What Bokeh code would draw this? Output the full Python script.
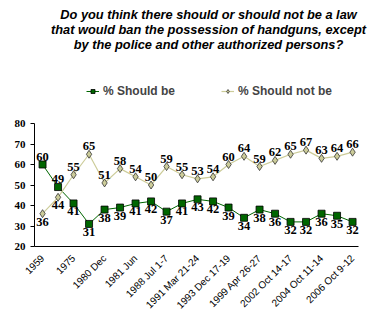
from bokeh.plotting import figure
from bokeh.models import ColumnDataSource, Label, Legend, LegendItem, FixedTicker, LabelSet
from bokeh.embed import file_html
from bokeh.resources import INLINE
import math

tick_labels = ["1959", "1975", "1980 Dec", "1981 Jun", "1988 Jul 1-7", "1991 Mar 21-24",
               "1993 Dec 17-19", "1999 Apr 26-27", "2002 Oct 14-17", "2004 Oct 11-14", "2006 Oct 9-12"]
should_be = [60, 49, 41, 31, 38, 39, 41, 42, 37, 41, 43, 42, 39, 34, 38, 36, 32, 32, 36, 35, 32]
should_not_be = [36, 44, 55, 65, 51, 58, 54, 50, 59, 55, 53, 54, 60, 64, 59, 62, 65, 67, 63, 64, 66]
title_lines = ["Do you think there should or should not be a law",
               "that would ban the possession of handguns, except",
               "by the police and other authorized persons?"]

n = len(should_be)
xs = list(range(n))

GREEN = "#006600"
KHAKI = "#CCCC99"

X0, X1 = -0.52, n - 1 + 0.39
PX_PER_X = 15.5
PX_PER_Y = 2.05
frame_w = 372 - 34
frame_h = 333 - 87

p = figure(width=372, height=333, output_backend="svg", toolbar_location=None,
           x_range=(X0, X0 + frame_w / PX_PER_X), y_range=(20, 20 + frame_h / PX_PER_Y),
           min_border_left=34, min_border_right=0, min_border_top=0, min_border_bottom=87)
p.outline_line_color = None
p.xgrid.grid_line_color = None
p.ygrid.grid_line_color = None
p.background_fill_color = "white"
p.border_fill_color = "white"

# lines and markers
r1l = p.line(xs, should_be, line_color=GREEN, line_width=1)
r2l = p.line(xs, should_not_be, line_color=KHAKI, line_width=1.2)
r1m = p.scatter(xs, should_be, marker="square", size=7, fill_color=GREEN, line_color="black", line_width=0.8)
r2m = p.scatter(xs, should_not_be, marker="diamond", size=8, fill_color=KHAKI, line_color="#333333", line_width=0.8)

# data labels: higher series above, lower below
up_x, up_y, up_t, dn_x, dn_y, dn_t = [], [], [], [], [], []
for i in range(n):
    a, b = should_be[i], should_not_be[i]
    hi, lo = (a, b) if a >= b else (b, a)
    up_x.append(i); up_y.append(hi); up_t.append(str(hi))
    dn_x.append(i); dn_y.append(lo); dn_t.append(str(lo))

src_up = ColumnDataSource(dict(x=up_x, y=up_y, t=up_t))
src_dn = ColumnDataSource(dict(x=dn_x, y=dn_y, t=dn_t))
p.add_layout(LabelSet(x="x", y="y", text="t", source=src_up, text_align="center",
                      text_baseline="bottom", y_offset=4, text_font="Liberation Serif",
                      text_font_style="bold", text_font_size="12.5px", text_color="black"))
p.add_layout(LabelSet(x="x", y="y", text="t", source=src_dn, text_align="center",
                      text_baseline="top", y_offset=-4, text_font="Liberation Serif",
                      text_font_style="bold", text_font_size="12.5px", text_color="black"))

# axes
p.xaxis.bounds = (X0, X1)
p.xaxis.ticker = FixedTicker(ticks=list(range(0, n, 2)))
p.xaxis.major_label_overrides = {i * 2: lab for i, lab in enumerate(tick_labels)}
p.xaxis.major_label_orientation = math.pi / 4
p.xaxis.major_label_text_font = "Liberation Sans"
p.xaxis.major_label_text_font_size = "10px"
p.xaxis.major_label_text_font_style = "normal"
p.xaxis.major_label_text_color = "black"
p.xaxis.major_tick_line_color = None
p.xaxis.minor_tick_line_color = None
p.xaxis.axis_line_color = "black"
p.xaxis.major_label_standoff = 4

p.yaxis.bounds = (20, 80)
p.yaxis.ticker = FixedTicker(ticks=[20, 30, 40, 50, 60, 70, 80])
p.yaxis.major_label_text_font = "Liberation Serif"
p.yaxis.major_label_text_font_style = "bold"
p.yaxis.major_label_text_font_size = "11px"
p.yaxis.major_label_text_color = "black"
p.yaxis.major_tick_out = 4
p.yaxis.major_tick_in = 0
p.yaxis.minor_tick_line_color = None
p.yaxis.axis_line_color = "black"
p.yaxis.major_label_standoff = 5

# legend
legend = Legend(items=[LegendItem(label="% Should be", renderers=[r1l, r1m]),
                       LegendItem(label="% Should not be", renderers=[r2l, r2m])],
                orientation="horizontal", location=(52, 148),
                label_text_font="Liberation Sans", label_text_font_style="bold",
                label_text_font_size="12px", glyph_width=13, glyph_height=10,
                label_standoff=4, spacing=46, padding=0, margin=0,
                border_line_color=None, background_fill_alpha=0)
p.add_layout(legend, "center")

# title lines
for k, line in enumerate(title_lines):
    p.add_layout(Label(x=174, y=232 - k * 15, x_units="screen", y_units="screen", text=line,
                       text_align="center", text_baseline="middle", text_font="Liberation Sans",
                       text_font_style="bold italic", text_font_size="12.8px", text_color="black"))

open("out.html", "w").write(file_html(p, INLINE))
